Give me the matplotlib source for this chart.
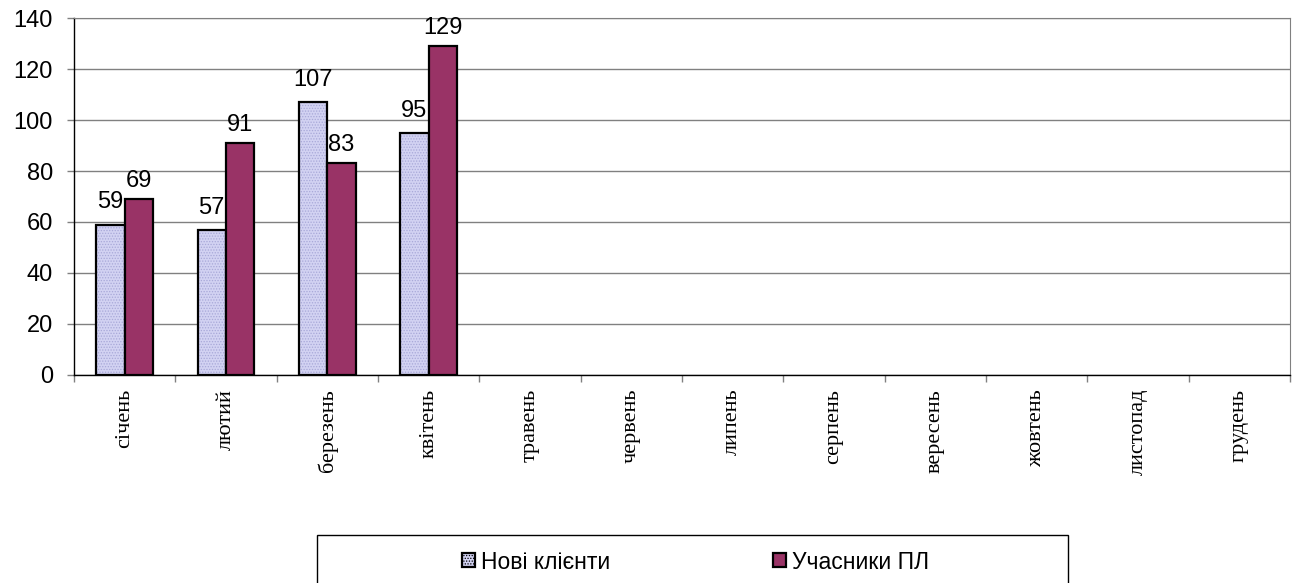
import matplotlib.pyplot as plt
from matplotlib.patches import Rectangle
import numpy as np

# monthly counts
months = ["січень", "лютий", "березень", "квітень", "травень", "червень",
          "липень", "серпень", "вересень", "жовтень", "листопад", "грудень"]
new_clients = [59, 57, 107, 95]
pl_members = [69, 91, 83, 129]

series_names = ["Нові клієнти", "Учасники ПЛ"]
light = "#d2d2f2"
dark = "#993366"

plt.rcParams["hatch.linewidth"] = 0.6

fig = plt.figure(figsize=(12.95, 5.83), dpi=100)
ax = fig.add_axes([0.0571, 0.3568, 0.939, 0.6123])

x = np.arange(len(months))
w = 0.28
n = len(new_clients)

# light bars: dotted fill then black outline on top
ax.bar(x[:n] - w / 2, new_clients, w, color=light, hatch="......",
       edgecolor="#a8a8d8", linewidth=0, zorder=3)
b1 = ax.bar(x[:n] - w / 2, new_clients, w, fill=False,
            edgecolor="black", linewidth=1.6, zorder=4)
b2 = ax.bar(x[:n] + w / 2, pl_members, w, color=dark,
            edgecolor="black", linewidth=1.6, zorder=4)

ax.bar_label(b1, padding=8, fontsize=17, family="Liberation Sans")
ax.bar_label(b2, padding=5, fontsize=17, family="Liberation Sans")

ax.set_xlim(-0.5, len(months) - 0.5)
ax.set_ylim(0, 140)
ax.set_yticks(range(0, 141, 20))
ax.yaxis.grid(True, color="#808080", linewidth=1, zorder=0)
ax.set_axisbelow(True)

ax.set_xticks(x)
ax.set_xticklabels(months, rotation=90, family="Liberation Serif", fontsize=16)
ax.tick_params(axis="x", length=0, pad=10)
ax.set_xticks(np.arange(-0.5, len(months)), minor=True)
ax.tick_params(axis="x", which="minor", length=5, color="#808080", width=1)
ax.tick_params(axis="y", length=5, color="#808080", width=1, labelsize=17, pad=10)
for lab in ax.get_yticklabels():
    lab.set_family("Liberation Sans")

for side in ["left", "bottom"]:
    ax.spines[side].set_color("black")
    ax.spines[side].set_linewidth(1)
ax.spines["top"].set_color("#808080")
ax.spines["right"].set_color("#808080")

# legend frame runs off the bottom edge
fig.patches.append(Rectangle((0.2448, -0.05), 0.58, 0.1323, transform=fig.transFigure,
                             fill=False, edgecolor="black", linewidth=1))
handles = [Rectangle((0, 0), 1, 1, facecolor=light, edgecolor="black", linewidth=1.6,
                     hatch="......"),
           Rectangle((0, 0), 1, 1, facecolor=dark, edgecolor="black", linewidth=1.6)]
fig.legend(handles, series_names, loc="center", bbox_to_anchor=(0.537, 0.036),
           ncol=2, frameon=False, handlelength=0.57, handleheight=0.57,
           handletextpad=0.25, columnspacing=7.1,
           prop={"family": "Liberation Sans", "size": 16.5})

fig.savefig("out.png", dpi=100)
